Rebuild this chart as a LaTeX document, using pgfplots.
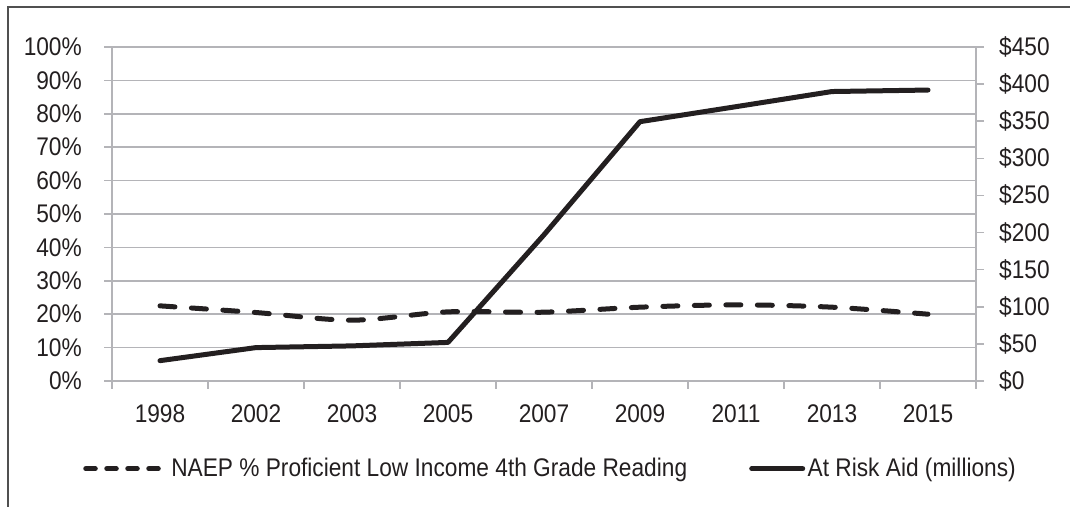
\documentclass[border=0pt]{standalone}
\usepackage{fontspec}
\setmainfont{Liberation Sans}[FakeStretch=0.89]
\usepackage{pgfplots}
\pgfplotsset{compat=1.18}
\definecolor{gridgray}{RGB}{180,180,184}
\definecolor{ink}{RGB}{35,31,32}
\definecolor{frame}{RGB}{80,80,80}
\pgfplotstableread{
x naep aid
0 22.5 27.4
1 20.5 45.0
2 18.2 47.3
3 20.7 52.0
4 20.6 197.0
5 22.1 349.4
6 22.8 369.6
7 22.1 390.0
8 20.0 392.0
}\chartdata
\begin{document}
\fontsize{25.5bp}{30bp}\selectfont
\begin{tikzpicture}
\useasboundingbox (0bp,0bp) rectangle (1070bp,507bp);
\draw[line width=1.6bp, frame] (8bp,0bp) -- (8bp,500bp) -- (1070bp,500bp);
\pgfplotsset{
  common/.style={
    at={(112bp,126bp)}, anchor=south west, scale only axis,
    width=864bp, height=334bp,
    xmin=-0.5, xmax=8.5,
    /pgf/number format/assume math mode=true,
    axis line style={gridgray, line width=1.5bp},
    tick style={gridgray, line width=1.5bp},
    tick align=outside, major tick length=8bp,
    ticklabel style={font=\fontsize{25.5bp}{30bp}\selectfont, text=ink, inner sep=0pt},
  }
}
\begin{axis}[common,
  ymin=0, ymax=100,
  axis x line*=bottom, axis y line*=left,
  xtick={-0.5,0.5,...,8.5}, x tick label as interval,
  xticklabels={1998,2002,2003,2005,2007,2009,2011,2013,2015},
  xticklabel style={yshift=-15bp},
  ytick={0,10,...,100}, yticklabel={\pgfmathprintnumber{\tick}\%},
  yticklabel style={xshift=-22bp},
  ymajorgrids, major grid style={gridgray, line width=1.5bp},
]
\addplot[ink, line width=5bp, line cap=round, dash pattern=on 15bp off 16.5bp, smooth, tension=0.5] table[x=x, y=naep] {\chartdata};
\end{axis}
\begin{axis}[common,
  ymin=0, ymax=450,
  axis x line=none, axis y line*=right,
  ytick={0,50,...,450}, yticklabel={\$\pgfmathprintnumber{\tick}},
  yticklabel style={xshift=15bp},
  legend style={at={(0.5064,-0.263)}, anchor=center, draw=none, fill=none,
    font=\fontsize{25.5bp}{30bp}\selectfont, text=ink, legend columns=2,
    column sep=0pt, nodes={inner sep=0pt},
    /tikz/every even column/.append style={column sep=62bp}},
]
\addlegendimage{ink, legend image code/.code={%
  \path[draw=none, fill=none] (0bp,-3bp) rectangle (88bp,3bp);
  \draw[ink, line width=5bp, line cap=round, dash pattern=on 9.5bp off 11.5bp] (2.5bp,0) -- (77.5bp,0);}}
\addlegendentry{NAEP \% Proficient Low Income 4th Grade Reading}
\addplot[ink, line width=5bp, line cap=round, line join=round, legend image code/.code={%
  \path[draw=none, fill=none] (0bp,-3bp) rectangle (56bp,3bp);
  \draw[ink, line width=5bp] (0bp,0) -- (51bp,0);}] table[x=x, y=aid] {\chartdata};
\addlegendentry{At Risk Aid (millions)}
\end{axis}
\end{tikzpicture}
\end{document}
